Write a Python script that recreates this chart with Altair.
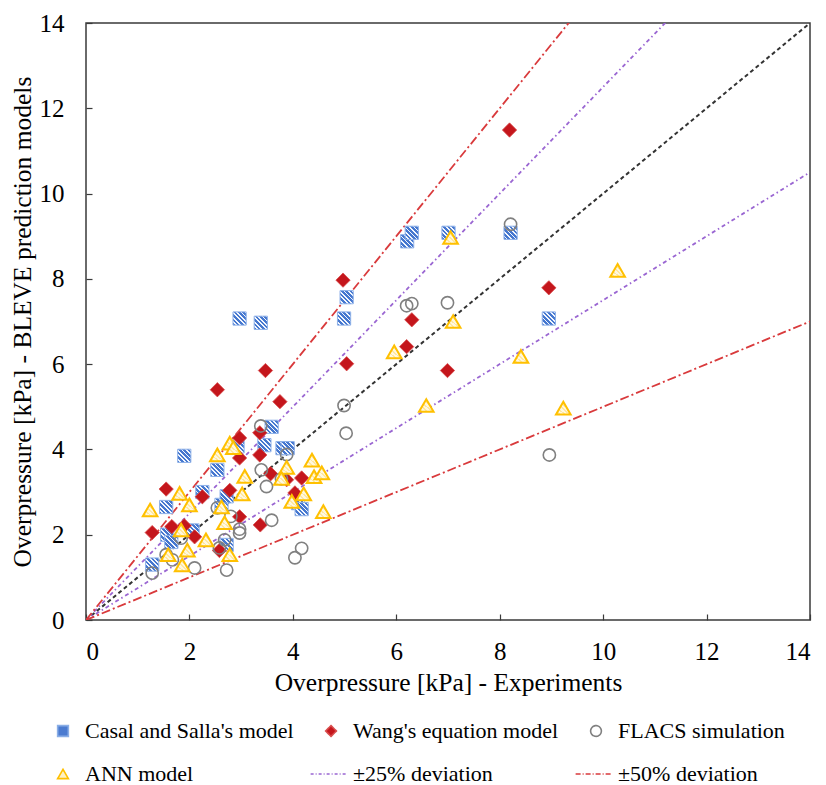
import altair as alt
import pandas as pd

# ---------------- data ----------------
casal_x = [1.28, 1.55, 1.57, 1.65, 1.90, 2.06, 2.25, 2.54, 2.62, 2.72, 2.72, 2.97, 3.38, 2.93,
           3.45, 3.59, 3.80, 3.90, 4.10, 4.17, 4.99, 5.04, 6.21, 6.30, 7.01, 8.21, 8.95]
casal_y = [1.30, 2.65, 2.00, 1.83, 3.85, 2.10, 3.00, 3.52, 2.70, 2.90, 1.76, 7.07, 6.97, 4.07,
           4.10, 4.53, 4.03, 4.03, 2.74, 2.60, 7.07, 7.57, 8.88, 9.08, 9.08, 9.08, 7.07]

wang_x = [1.28, 1.55, 1.66, 1.90, 2.10, 2.25, 2.78, 2.97, 2.58, 2.54, 3.47, 3.75, 2.97, 3.36,
          2.97, 3.36, 3.57, 3.88, 4.17, 4.04, 3.37, 8.19, 4.97, 6.30, 6.20, 5.04, 6.99, 8.95]
wang_y = [2.05, 3.07, 2.19, 2.21, 1.95, 2.89, 3.04, 2.42, 1.63, 5.40, 5.85, 5.12, 4.27, 4.39,
          3.80, 3.87, 3.43, 3.29, 3.33, 2.98, 2.23, 11.49, 7.97, 7.04, 6.41, 6.01, 5.85, 7.79]

flacs_x = [1.28, 1.55, 1.67, 2.10, 2.72, 2.54, 2.80, 2.68, 2.58, 2.97, 2.97, 3.38, 3.39, 3.49,
           3.59, 3.88, 3.78, 4.04, 4.17, 4.99, 5.03, 6.20, 6.30, 6.99, 8.21, 8.96, 1.84]
flacs_y = [1.10, 1.53, 1.41, 1.22, 1.17, 2.63, 2.43, 1.88, 1.69, 2.13, 2.04, 4.55, 3.52, 3.13,
           2.34, 3.88, 3.31, 1.46, 1.68, 5.03, 4.38, 7.37, 7.42, 7.44, 9.28, 3.87, 1.92]

ann_x = [1.24, 1.81, 2.00, 2.54, 2.78, 2.85, 3.07, 3.02, 2.62, 2.68, 1.84, 2.32, 1.96, 1.59,
         1.86, 2.78, 3.88, 3.78, 4.37, 4.41, 4.56, 4.21, 3.98, 4.59, 7.05, 7.10, 5.96, 8.41,
         6.58, 10.28, 9.23]
ann_y = [2.58, 2.97, 2.70, 3.87, 4.15, 4.04, 3.37, 2.96, 2.65, 2.28, 2.11, 1.88, 1.64, 1.53,
         1.29, 1.53, 3.58, 3.32, 3.75, 3.36, 3.45, 2.96, 2.78, 2.54, 8.97, 7.00, 6.29, 6.18,
         5.03, 8.20, 4.97]

series_names = ["Casal and Salla's model", "Wang's equation model", "FLACS simulation",
                "ANN model", "±25% deviation", "±50% deviation"]
tick_values = [0, 2, 4, 6, 8, 10, 12, 14]
ref_factors = [1.0, 0.75, 1.25, 0.5, 1.5]   # y = k * x reference lines
axis_max = 14

FONT = "Liberation Serif"
INK = "#3a3a3a"

# ---------------- tables ----------------
def table(xs, ys, name):
    return pd.DataFrame({"exp": xs, "pred": ys, "series": name})

casal = table(casal_x, casal_y, series_names[0])
wang = table(wang_x, wang_y, series_names[1])
flacs = table(flacs_x, flacs_y, series_names[2])
ann = table(ann_x, ann_y, series_names[3])
all_pts = pd.concat([casal, wang, flacs, ann], ignore_index=True)

def ref_line(k):
    return pd.DataFrame({"exp": [0, axis_max], "pred": [0, k * axis_max]})

# ---------------- scales / axes ----------------
xs = alt.Scale(domain=[0, axis_max], nice=False)
ys = alt.Scale(domain=[0, axis_max], nice=False)

common_axis = dict(domain=False, grid=False, offset=-6, tickSize=6, tickColor=INK, tickWidth=1.2,
                   labelFont=FONT, labelFontSize=25, labelColor="black",
                   titleFont=FONT, titleFontSize=25.5, titleColor="black",
                   titleFontWeight="normal", format="d")
x_axis = alt.Axis(values=tick_values, title="Overpressure [kPa] - Experiments",
                  labelPadding=19, titlePadding=6, **common_axis)
y_axis = alt.Axis(values=tick_values, title="Overpressure [kPa] - BLEVE prediction models",
                  labelPadding=22, titlePadding=4, **common_axis)

X = alt.X("exp:Q", scale=xs, axis=x_axis)
Y = alt.Y("pred:Q", scale=ys, axis=y_axis)


def stripes(c1, c2, n, frac):
    stops = []
    for i in range(n):
        a = i / n
        b = (i + frac) / n
        c = (i + 1) / n
        stops += [alt.GradientStop(offset=a, color=c1), alt.GradientStop(offset=b, color=c1),
                  alt.GradientStop(offset=b, color=c2), alt.GradientStop(offset=c, color=c2)]
    return alt.LinearGradient(gradient="linear", stops=stops, x1=0, y1=1, x2=1, y2=0)


blue_fill = stripes("#4577cf", "#f2f6fd", 6, 0.6)
yellow_fill = stripes("#fff8e0", "#ffe8a0", 6, 0.6)

# ---------------- reference lines ----------------
line_style = {
    1.0: dict(color="#333333", strokeDash=[4, 3], strokeWidth=2),
    0.75: dict(color="#9a66d2", strokeDash=[4, 3, 1.5, 3], strokeWidth=1.8),
    1.25: dict(color="#9a66d2", strokeDash=[4, 3, 1.5, 3], strokeWidth=1.8),
    0.5: dict(color="#d93a3c", strokeDash=[9, 3, 2, 3], strokeWidth=1.8),
    1.5: dict(color="#d93a3c", strokeDash=[9, 3, 2, 3], strokeWidth=1.8),
}
lines = [
    alt.Chart(ref_line(k)).mark_line(clip=True, **line_style[k]).encode(x=X, y=Y)
    for k in ref_factors
]

# ---------------- points ----------------
casal_layer = alt.Chart(casal).mark_point(
    shape="square", size=175, filled=True, fill=blue_fill, stroke="#8fb1e8",
    strokeWidth=1, opacity=1).encode(x=X, y=Y)
wang_layer = alt.Chart(wang).mark_point(
    shape="diamond", size=205, filled=True, fill="#c4161c", stroke="#d84a4a",
    strokeWidth=0.8, opacity=1).encode(x=X, y=Y)
flacs_layer = alt.Chart(flacs).mark_point(
    shape="circle", size=150, filled=False, stroke="#808080",
    strokeWidth=1.6, opacity=1).encode(x=X, y=Y)
ann_layer = alt.Chart(ann).mark_point(
    shape="triangle-up", size=215, filled=True, fill=yellow_fill, stroke="#ffc000",
    strokeWidth=2, opacity=1).encode(x=X, y=Y)

# ---------------- legend carrier (draws nothing, only the legend) ----------------
leg = alt.Legend(title=None, orient="none", legendX=-34, legendY=697, columns=3,
                 direction="horizontal",
                 labelFont=FONT, labelFontSize=22, labelColor="black", labelLimit=400,
                 symbolSize=115, symbolStrokeWidth=1.6, labelOffset=11,
                 rowPadding=21, columnPadding=13)
shape_range = ["square", "diamond", "circle", "triangle-up", "M-3.8,0L3.0,0", "M-3.8,0L3.0,0"]
fill_range = ["#4b7bd0", "#c4161c", "transparent", "#fff1c4", "transparent", "transparent"]
stroke_range = ["#8aaee6", "#d84a4a", "#808080", "#ffc000", "#9a66d2", "#d93a3c"]
dash_range = [[1, 0], [1, 0], [1, 0], [1, 0], [3, 2, 1, 2], [5, 2, 1, 2]]

legend_layer = alt.Chart(all_pts).transform_filter("false").mark_point(
    filled=True, opacity=1).encode(
    x=X, y=Y,
    shape=alt.Shape("series:N", scale=alt.Scale(domain=series_names, range=shape_range), legend=leg),
    fill=alt.Fill("series:N", scale=alt.Scale(domain=series_names, range=fill_range), legend=leg),
    stroke=alt.Stroke("series:N", scale=alt.Scale(domain=series_names, range=stroke_range), legend=leg),
    strokeDash=alt.StrokeDash("series:N", scale=alt.Scale(domain=series_names, range=dash_range), legend=leg),
)

chart = alt.layer(
    *lines, casal_layer, wang_layer, flacs_layer, ann_layer, legend_layer
).properties(
    width=724, height=597,
    autosize=alt.AutoSizeParams(type="none"),
    padding={"left": 86, "top": 23, "right": 16, "bottom": 165},
    background="white",
).configure_view(
    stroke=INK, strokeWidth=1.5
)

chart.save("out.html", embed_options={"renderer": "svg", "actions": False})
